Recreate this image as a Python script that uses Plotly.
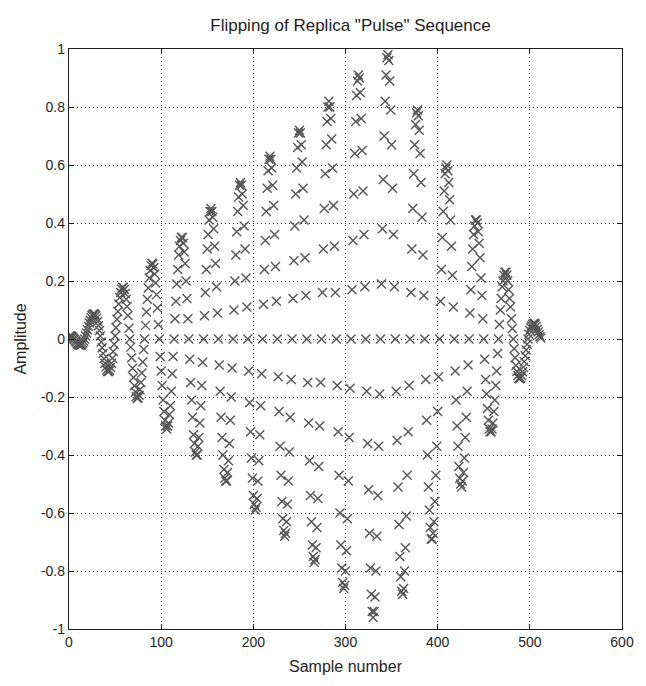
import plotly.graph_objects as go

# Amplitude of each sample (samples 1..512), one period (32 samples) per line
amplitude = [
    0.011, 0.010, 0.008, 0.006, 0.002, -0.002, -0.007, -0.011, -0.016, -0.019, -0.021, -0.022, -0.021, -0.019, -0.014, -0.008, 0.0, 0.010, 0.021, 0.032, 0.044, 0.055, 0.065, 0.074, 0.081, 0.085, 0.087, 0.085, 0.080, 0.072, 0.060, 0.046,
    0.029, 0.010, -0.010, -0.030, -0.050, -0.068, -0.084, -0.097, -0.107, -0.112, -0.112, -0.108, -0.098, -0.084, -0.066, -0.043, -0.018, 0.010, 0.039, 0.068, 0.095, 0.121, 0.143, 0.160, 0.172, 0.178, 0.178, 0.171, 0.157, 0.137, 0.112, 0.081,
    0.037, 0.0, -0.028, -0.065, -0.101, -0.133, -0.161, -0.183, -0.198, -0.204, -0.203, -0.194, -0.175, -0.150, -0.117, -0.079, -0.036, 0.0, 0.047, 0.093, 0.137, 0.176, 0.210, 0.236, 0.253, 0.261, 0.259, 0.246, 0.224, 0.193, 0.153, 0.107,
    0.05, 0.0, -0.06, -0.11, -0.16, -0.21, -0.25, -0.28, -0.30, -0.31, -0.30, -0.29, -0.26, -0.23, -0.18, -0.12, -0.06, 0.0, 0.07, 0.13, 0.19, 0.24, 0.29, 0.32, 0.34, 0.35, 0.35, 0.33, 0.30, 0.26, 0.20, 0.14,
    0.07, 0.0, -0.07, -0.15, -0.21, -0.27, -0.33, -0.36, -0.39, -0.40, -0.40, -0.37, -0.34, -0.29, -0.23, -0.16, -0.08, 0.0, 0.08, 0.16, 0.24, 0.31, 0.36, 0.41, 0.44, 0.45, 0.44, 0.42, 0.38, 0.32, 0.26, 0.18,
    0.09, 0.0, -0.09, -0.18, -0.27, -0.34, -0.40, -0.45, -0.48, -0.49, -0.49, -0.46, -0.42, -0.36, -0.28, -0.20, -0.10, 0.0, 0.10, 0.20, 0.29, 0.37, 0.44, 0.49, 0.53, 0.54, 0.53, 0.50, 0.46, 0.39, 0.31, 0.21,
    0.11, 0.0, -0.11, -0.22, -0.32, -0.41, -0.48, -0.54, -0.57, -0.59, -0.58, -0.55, -0.49, -0.42, -0.33, -0.23, -0.12, 0.0, 0.12, 0.24, 0.34, 0.44, 0.52, 0.58, 0.62, 0.63, 0.62, 0.59, 0.53, 0.46, 0.36, 0.25,
    0.13, 0.0, -0.13, -0.25, -0.37, -0.47, -0.56, -0.62, -0.66, -0.68, -0.67, -0.63, -0.57, -0.49, -0.39, -0.27, -0.14, 0.0, 0.14, 0.27, 0.39, 0.50, 0.59, 0.66, 0.71, 0.72, 0.71, 0.67, 0.61, 0.52, 0.41, 0.28,
    0.15, 0.0, -0.15, -0.29, -0.42, -0.54, -0.63, -0.71, -0.75, -0.77, -0.76, -0.72, -0.65, -0.55, -0.44, -0.30, -0.15, 0.0, 0.16, 0.31, 0.45, 0.57, 0.67, 0.75, 0.80, 0.82, 0.80, 0.76, 0.69, 0.59, 0.46, 0.32,
    0.16, 0.0, -0.16, -0.32, -0.47, -0.60, -0.71, -0.79, -0.84, -0.86, -0.85, -0.80, -0.73, -0.62, -0.49, -0.34, -0.17, 0.0, 0.17, 0.34, 0.50, 0.64, 0.75, 0.84, 0.89, 0.91, 0.90, 0.85, 0.76, 0.65, 0.51, 0.36,
    0.18, 0.0, -0.18, -0.36, -0.52, -0.67, -0.79, -0.88, -0.94, -0.96, -0.94, -0.89, -0.80, -0.68, -0.54, -0.37, -0.19, 0.0, 0.19, 0.38, 0.55, 0.70, 0.82, 0.91, 0.97, 0.98, 0.96, 0.89, 0.79, 0.67, 0.52, 0.36,
    0.18, 0.0, -0.18, -0.35, -0.51, -0.64, -0.75, -0.82, -0.87, -0.88, -0.86, -0.80, -0.72, -0.61, -0.47, -0.32, -0.16, 0.0, 0.16, 0.31, 0.45, 0.57, 0.67, 0.74, 0.78, 0.79, 0.77, 0.72, 0.64, 0.54, 0.42, 0.29,
    0.15, 0.0, -0.14, -0.28, -0.40, -0.51, -0.59, -0.65, -0.69, -0.69, -0.67, -0.63, -0.56, -0.47, -0.37, -0.25, -0.13, 0.0, 0.13, 0.24, 0.35, 0.44, 0.51, 0.57, 0.59, 0.60, 0.58, 0.54, 0.48, 0.41, 0.32, 0.22,
    0.11, 0.0, -0.11, -0.21, -0.30, -0.37, -0.44, -0.48, -0.50, -0.51, -0.49, -0.46, -0.41, -0.34, -0.27, -0.18, -0.09, 0.0, 0.09, 0.17, 0.25, 0.31, 0.36, 0.39, 0.41, 0.41, 0.40, 0.37, 0.33, 0.28, 0.21, 0.15,
    0.07, 0.0, -0.07, -0.14, -0.19, -0.24, -0.28, -0.31, -0.32, -0.32, -0.31, -0.29, -0.25, -0.21, -0.16, -0.11, -0.05, 0.0, 0.05, 0.10, 0.14, 0.18, 0.20, 0.22, 0.23, 0.23, 0.22, 0.20, 0.17, 0.14, 0.11, 0.07,
    0.036, 0.0, -0.034, -0.065, -0.091, -0.111, -0.126, -0.135, -0.137, -0.134, -0.126, -0.113, -0.097, -0.078, -0.058, -0.038, -0.018, 0.0, 0.016, 0.029, 0.039, 0.045, 0.050, 0.053, 0.054, 0.051, 0.043, 0.033, 0.024, 0.015, 0.008, 0.003,
]
sample_number = list(range(1, len(amplitude) + 1))

x_ticks = [0, 100, 200, 300, 400, 500, 600]
x_tick_labels = ["0", "100", "200", "300", "400", "500", "600"]
y_ticks = [-1, -0.8, -0.6, -0.4, -0.2, 0, 0.2, 0.4, 0.6, 0.8, 1]
y_tick_labels = ["-1", "-0.8", "-0.6", "-0.4", "-0.2", "0", "0.2", "0.4", "0.6", "0.8", "1"]

FONT = "Liberation Sans Narrow, Arial Narrow, Liberation Sans, sans-serif"
TEXT = "#1e1e1e"

fig = go.Figure(
    go.Scatter(
        x=sample_number,
        y=amplitude,
        mode="markers",
        marker=dict(symbol="x-thin", size=9, line=dict(width=1.4, color="#555555")),
        hoverinfo="x+y",
    )
)

axis_common = dict(
    showline=True, linecolor="#1e1e1e", linewidth=1.3, mirror="ticks",
    ticks="inside", ticklen=5, tickcolor="#1e1e1e", tickwidth=1,
    showgrid=True, gridcolor="#3a3a3a", griddash="1px,3px", gridwidth=1,
    zeroline=False,
    tickfont=dict(family=FONT, size=14, color=TEXT),
)

fig.update_layout(
    width=646, height=686,
    margin=dict(l=69, r=14, t=49, b=57),
    paper_bgcolor="white", plot_bgcolor="white",
    showlegend=False,
    title=dict(
        text='Flipping of Replica "Pulse" Sequence',
        x=(69 + 632) / 2 / 646, xanchor="center",
        y=1 - 25 / 686, yanchor="middle", yref="container",
        font=dict(family=FONT, size=17, color=TEXT),
    ),
    xaxis=dict(
        range=[0, 600], tickvals=x_ticks, ticktext=x_tick_labels,
        title=dict(text="Sample number", standoff=11, font=dict(family=FONT, size=16, color=TEXT)),
        **axis_common,
    ),
    yaxis=dict(
        range=[-1, 1], tickvals=y_ticks, ticktext=y_tick_labels,
        title=dict(text="Amplitude", standoff=10, font=dict(family=FONT, size=16, color=TEXT)),
        **axis_common,
    ),
)

fig.write_html("out.html")
